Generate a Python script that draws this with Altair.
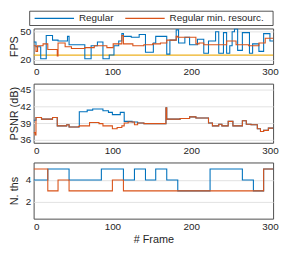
import altair as alt
import pandas as pd

series_names = ["Regular", "Regular min. resourc."]
series_colors = ["#0072BD", "#D95319"]
target_color = "#EDB120"
fps_target = 25

x_ticks = [0, 100, 200, 300]

fps_reg_x = [0, 3, 9, 16, 24, 31, 43, 45, 65, 73, 81, 88, 96, 102, 108, 112, 114, 124, 134, 142,
             152, 155, 169, 173, 181, 184, 192, 198, 208, 216, 222, 231, 235, 241, 245, 249, 252, 255,
             259, 265, 274, 278, 286, 292, 300, 304]
fps_reg_y = [39, 34, 21, 46, 41, 40, 45, 36, 21, 35, 39, 21, 25, 35, 40, 48, 45, 44, 47, 28,
             38, 45, 26, 41, 52, 38, 44, 36, 42, 27, 40, 50, 27, 49, 27, 35, 50, 53,
             30, 49, 27, 37, 29, 48, 40, 40]
fps_min_x = [0, 3, 5, 12, 18, 30, 31, 40, 48, 65, 77, 93, 101, 112, 114, 126, 140, 151, 161, 169,
             181, 183, 206, 210, 216, 245, 257, 273, 286, 294, 304]
fps_min_y = [35, 29, 35, 37, 31, 24, 38, 34, 32, 33, 35, 33, 37, 46, 37, 35, 36, 37, 38, 41,
             45, 44, 37, 38, 36, 40, 36, 35, 38, 43, 43]

psnr_reg_x = [0, 3, 10, 24, 30, 42, 45, 58, 68, 75, 88, 95, 100, 110, 115, 125, 132, 140, 149, 168,
              169, 186, 198, 206, 222, 227, 235, 239, 247, 253, 265, 270, 276, 284, 288, 292, 298, 304]
psnr_reg_y = [39.5, 40.0, 39.7, 40.0, 38.5, 38.7, 38.3, 41.0, 41.3, 41.5, 41.2, 40.9, 40.5, 40.9, 39.3, 39.2, 39.0, 38.9, 38.9, 41.7,
              39.7, 39.8, 40.1, 39.9, 39.0, 38.5, 38.8, 38.5, 39.3, 38.5, 39.4, 38.8, 38.7, 38.0, 37.5, 37.7, 38.1, 38.1]
psnr_min_x = [0, 2, 3, 10, 24, 30, 42, 45, 57, 58, 71, 83, 88, 100, 106, 112, 115, 120, 128, 132,
              140, 149, 168, 169, 186, 198, 206, 222, 227, 235, 239, 247, 253, 265, 270, 276, 284, 288, 292, 298, 304]
psnr_min_y = [37.3, 36.9, 40.0, 39.7, 40.0, 38.5, 38.7, 38.3, 38.4, 38.5, 39.1, 38.9, 38.5, 38.0, 38.2, 38.5, 39.0, 39.2, 38.7, 39.0,
              38.9, 38.9, 41.7, 39.7, 39.8, 40.1, 39.9, 39.0, 38.5, 38.8, 38.5, 39.3, 38.5, 39.4, 38.8, 38.7, 38.0, 37.5, 37.7, 38.1, 38.1]

nth_reg_x = [0, 18, 45, 86, 114, 128, 142, 155, 169, 183, 224, 265, 279, 292, 304]
nth_reg_y = [4, 5, 4, 5, 4, 5, 4, 5, 4, 3, 5, 4, 3, 5, 5]
nth_min_x = [0, 18, 31, 45, 100, 114, 292, 304]
nth_min_y = [5, 3, 4, 3, 4, 3, 5, 5]

FONT = "Liberation Sans"
W = 243
color_scale = alt.Scale(domain=series_names, range=series_colors)


def frame_df(xs_a, ys_a, xs_b, ys_b):
    a = pd.DataFrame({"frame": xs_a, "value": ys_a, "series": series_names[0]})
    b = pd.DataFrame({"frame": xs_b, "value": ys_b, "series": series_names[1]})
    return pd.concat([a, b], ignore_index=True)


def lines(df, title, domain, ticks, height, xtitle=None):
    if xtitle:
        x_axis = alt.Axis(values=x_ticks, grid=False, labelPadding=3, titlePadding=2, title=xtitle)
    else:
        x_axis = alt.Axis(values=x_ticks, grid=False, labelPadding=3, title=None)
    return alt.Chart(df).mark_line(interpolate="step-after", strokeWidth=1.1, clip=True).encode(
        x=alt.X("frame:Q", scale=alt.Scale(domain=[0, 304], nice=False, zero=False), axis=x_axis),
        y=alt.Y("value:Q", scale=alt.Scale(domain=domain, nice=False, zero=False),
                axis=alt.Axis(values=ticks, title=title, titleX=-14, titleY=height / 2,
                              titleAngle=270, titleBaseline="bottom", titleAlign="center")),
        color=alt.Color("series:N", scale=color_scale, legend=None),
    )


fps_df = frame_df(fps_reg_x, fps_reg_y, fps_min_x, fps_min_y)
psnr_df = frame_df(psnr_reg_x, psnr_reg_y, psnr_min_x, psnr_min_y)
nth_df = frame_df(nth_reg_x, nth_reg_y, nth_min_x, nth_min_y)

fps_h, psnr_h, nth_h = 36, 60, 57

target = alt.Chart(pd.DataFrame({"value": [fps_target]})).mark_rule(
    color=target_color, strokeWidth=1.3).encode(y="value:Q")

legend_df = pd.DataFrame({"series": series_names})
leg_box = alt.Chart(legend_df).transform_filter(alt.datum.series == series_names[0]).mark_rect(
    fill="white", stroke="#262626", strokeWidth=0.8).encode(
    x=alt.value(-4), x2=alt.value(W), y=alt.value(-17.5), y2=alt.value(-3))
leg_layers = [leg_box]
for name, x0, tx in [(series_names[0], 1, 46), (series_names[1], 93, 138)]:
    sub = alt.Chart(legend_df).transform_filter(alt.datum.series == name)
    leg_layers.append(sub.mark_rule(strokeWidth=1.1).encode(
        x=alt.value(x0), x2=alt.value(x0 + 40), y=alt.value(-10.25),
        color=alt.Color("series:N", scale=color_scale, legend=None)))
    leg_layers.append(sub.mark_text(align="left", baseline="middle", fontSize=10, font=FONT,
                                    color="#262626").encode(
        x=alt.value(tx), y=alt.value(-10.25), text="series:N"))

fps = alt.layer(target, lines(fps_df, "FPS", [15.5, 53.5], [20, 35, 50], fps_h),
                *leg_layers).properties(width=W, height=fps_h)
psnr = lines(psnr_df, "PSNR (dB)", [35.5, 46], [36, 39, 42, 45], psnr_h).properties(width=W, height=psnr_h)
nth = lines(nth_df, "N. ths", [0.45, 5.6], [2, 4], nth_h, xtitle="# Frame").properties(width=W, height=nth_h)

chart = alt.vconcat(fps, psnr, nth, spacing=5, padding=0).configure(font=FONT).configure_view(
    stroke="#4d4d4d", strokeWidth=1
).configure_axis(
    labelFontSize=10, titleFontSize=11, labelColor="#262626", titleColor="#262626",
    titleFontWeight="normal", ticks=False, domain=False, gridColor="#e2e2e2", gridWidth=1,
    labelPadding=3, labelFont=FONT, titleFont=FONT
).configure_axisX(grid=False)

chart.save("out.html", embed_options={"renderer": "svg", "actions": False})
